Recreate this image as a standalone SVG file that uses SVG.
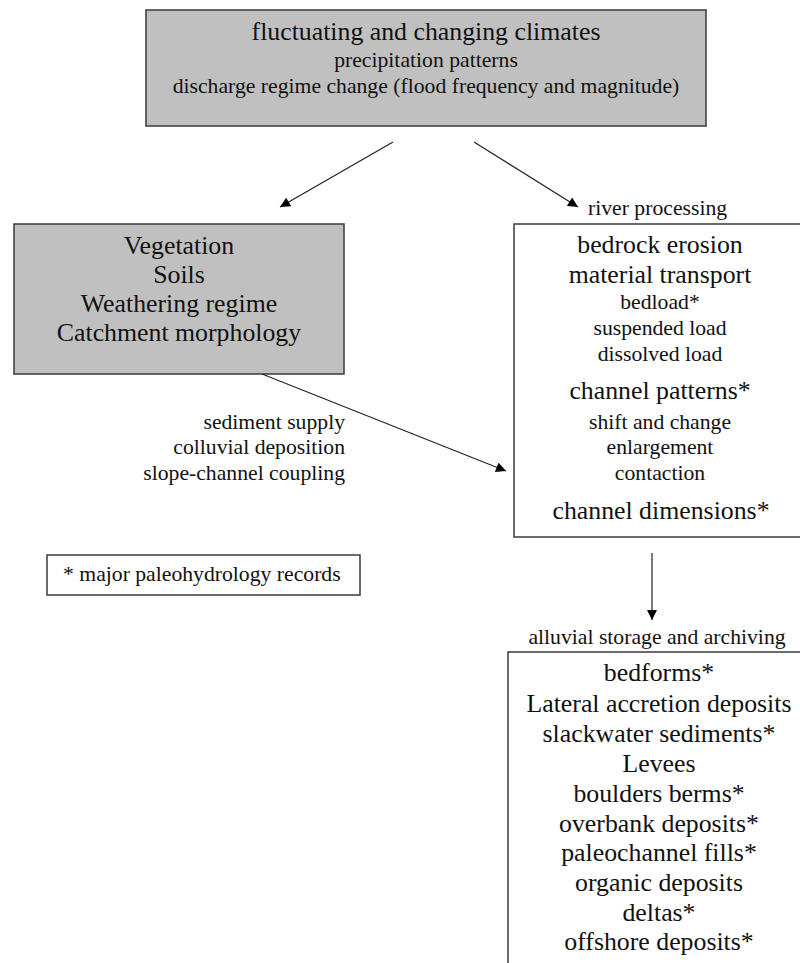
<svg xmlns="http://www.w3.org/2000/svg" width="800" height="963" viewBox="0 0 800 963">
<style>
.box{stroke:#3a3a3a;stroke-width:1.5}
.gray{fill:#c0c0c0}
.white{fill:#ffffff}
text{font-family:"Liberation Serif","Times New Roman",serif;fill:#111}
.l{font-size:25.8px}
.s{font-size:21.7px}
.c{text-anchor:middle}
.r{text-anchor:end}
.conn line{stroke:#222;stroke-width:1.2}
</style>
<defs>
<marker id="ah" viewBox="0 0 10 10" refX="10" refY="5" markerWidth="11" markerHeight="10" markerUnits="userSpaceOnUse" orient="auto">
<path d="M0,0 L10,5 L0,10 z" fill="#000"/>
</marker>
</defs>
<rect width="800" height="963" fill="#fff"/>
<g id="climates">
<rect class="box gray" x="146" y="10" width="560" height="116"/>
<text class="l c" x="426" y="40">fluctuating and changing climates</text>
<text class="s c" x="426" y="67">precipitation patterns</text>
<text class="s c" x="426" y="93">discharge regime change (flood frequency and magnitude)</text>
</g>
<g id="catchment">
<rect class="box gray" x="14" y="224" width="330" height="150"/>
<text class="l c" x="179" y="254">Vegetation</text>
<text class="l c" x="179" y="283">Soils</text>
<text class="l c" x="179" y="312">Weathering regime</text>
<text class="l c" x="179" y="341">Catchment morphology</text>
</g>
<g id="river">
<text class="s" x="588" y="215">river processing</text>
<rect class="box white" x="514" y="224" width="300" height="313"/>
<text class="l c" x="660" y="253">bedrock erosion</text>
<text class="l c" x="660" y="283">material transport</text>
<text class="s c" x="660" y="309">bedload*</text>
<text class="s c" x="660" y="335">suspended load</text>
<text class="s c" x="660" y="361">dissolved load</text>
<text class="l c" x="660" y="399">channel patterns*</text>
<text class="s c" x="660" y="429">shift and change</text>
<text class="s c" x="660" y="454">enlargement</text>
<text class="s c" x="660" y="480">contaction</text>
<text class="l c" x="661" y="519">channel dimensions*</text>
</g>
<g id="legend">
<rect class="box white" x="47" y="555" width="313" height="40"/>
<text class="s" x="63" y="581">* major paleohydrology records</text>
</g>
<g id="alluvial">
<text class="s c" x="657" y="644">alluvial storage and archiving</text>
<rect class="box white" x="508" y="652" width="310" height="320"/>
<text class="l c" x="659" y="681">bedforms*</text>
<text class="l c" x="659" y="712">Lateral accretion deposits</text>
<text class="l c" x="659" y="742">slackwater sediments*</text>
<text class="l c" x="659" y="772">Levees</text>
<text class="l c" x="659" y="802">boulders berms*</text>
<text class="l c" x="659" y="832">overbank deposits*</text>
<text class="l c" x="659" y="861">paleochannel fills*</text>
<text class="l c" x="659" y="891">organic deposits</text>
<text class="l c" x="659" y="921">deltas*</text>
<text class="l c" x="659" y="950">offshore deposits*</text>
</g>
<g id="supply-labels">
<text class="s r" x="345" y="429">sediment supply</text>
<text class="s r" x="345" y="454">colluvial deposition</text>
<text class="s r" x="345" y="480">slope-channel coupling</text>
</g>
<g class="conn" id="connectors">
<line x1="393" y1="142" x2="280" y2="207" marker-end="url(#ah)"/>
<line x1="474" y1="142" x2="578" y2="207" marker-end="url(#ah)"/>
<line x1="262" y1="374" x2="506" y2="471" marker-end="url(#ah)"/>
<line x1="652" y1="553" x2="652" y2="620" marker-end="url(#ah)"/>
</g>
</svg>
